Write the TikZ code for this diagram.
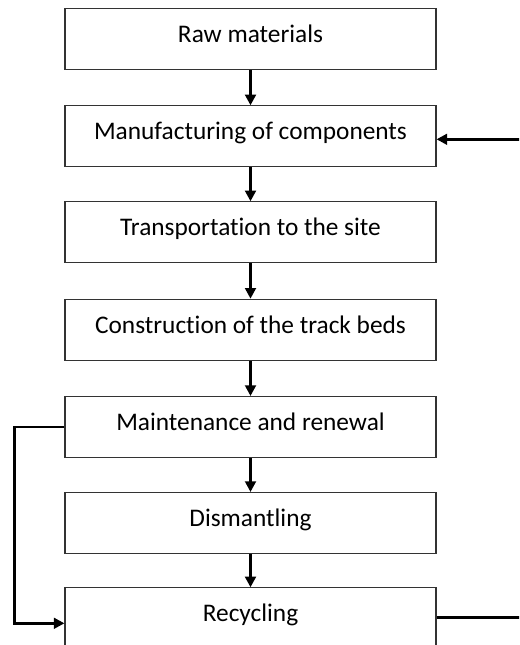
\documentclass[tikz,border=0pt]{standalone}
\usepackage{fontspec}
\setmainfont[Ligatures=NoCommon]{Carlito}
\usetikzlibrary{arrows.meta}
\tikzset{
  stepbox/.style={draw=black!80, line width=0.8pt, minimum width=278.25pt, minimum height=45.75pt, inner sep=0pt, anchor=north, font=\fontsize{19}{22}\selectfont},
  flow/.style={line width=2pt, -{Triangle[length=8pt,width=8pt]}},
  plain/.style={line width=2pt}
}
\newcommand{\bt}[1]{\raisebox{-2.6pt}[0pt][0pt]{#1}}
\begin{document}
\begin{tikzpicture}[x=0.75pt,y=-0.75pt]
\useasboundingbox (0,0) rectangle (519,645);
\clip (0,0) rectangle (519,645);
\node[stepbox] (raw) at (250.5,8) {\bt{Raw materials}};
\node[stepbox] (man) at (250.5,105.3) {\bt{Manufacturing of components}};
\node[stepbox] (tra) at (250.5,201.3) {\bt{Transportation to the site}};
\node[stepbox] (con) at (250.5,298.7) {\bt{Construction of the track beds}};
\node[stepbox] (mai) at (250.5,396) {\bt{Maintenance and renewal}};
\node[stepbox] (dis) at (250.5,492) {\bt{Dismantling}};
\node[stepbox] (rec) at (250.5,587.3) {\bt{Recycling}};
\draw[flow] (raw) -- (man);
\draw[flow] (man) -- (tra);
\draw[flow] (tra) -- (con);
\draw[flow] (con) -- (mai);
\draw[flow] (mai) -- (dis);
\draw[flow] (dis) -- (rec);
\coordinate (rin) at (522,139.3);
\coordinate (rout) at (522,617.3);
\coordinate (lft) at (14.7,623.3);
\draw[flow] (rin) -- (rin -| man.east);
\draw[plain] (rec.east |- rout) -- (rout);
\draw[flow] (mai.west) -| (lft) -- (lft -| rec.west);
\end{tikzpicture}
\end{document}
